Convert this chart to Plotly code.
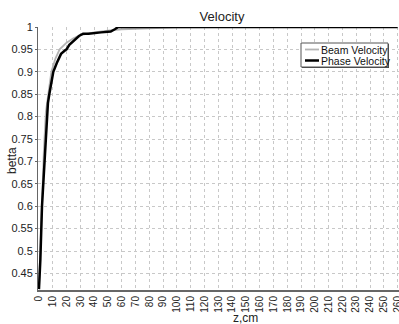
import plotly.graph_objects as go

# Data
beam_z = [0, 1, 2, 3.5, 5, 7, 9, 12, 15, 20, 25, 30, 40, 50, 60, 80, 100, 130, 260]
beam_v = [0.415, 0.50, 0.62, 0.72, 0.81, 0.86, 0.90, 0.93, 0.95, 0.965, 0.975, 0.982, 0.988, 0.992, 0.995, 0.997, 0.999, 1.0, 1.0]

phase_z = [0, 1, 2.2, 4, 5.5, 6.5, 7.5, 9, 10.4, 13, 16, 19, 20, 22, 26, 29, 32, 36, 45, 52, 55, 57.5, 260]
phase_v = [0.415, 0.48, 0.60, 0.70, 0.80, 0.83, 0.85, 0.88, 0.90, 0.92, 0.94, 0.948, 0.95, 0.96, 0.972, 0.98, 0.985, 0.985, 0.988, 0.99, 0.995, 1.0, 1.0]

series_names = ["Beam Velocity", "Phase Velocity"]
series_colors = ["#b4b4b4", "#000000"]

x_ticks = list(range(0, 261, 10))
y_ticks = [0.45, 0.5, 0.55, 0.6, 0.65, 0.7, 0.75, 0.8, 0.85, 0.9, 0.95, 1]
y_labels = ["0.45", "0.5", "0.55", "0.6", "0.65", "0.7", "0.75", "0.8", "0.85", "0.9", "0.95", "1"]

fig = go.Figure()
fig.add_trace(go.Scatter(x=beam_z, y=beam_v, mode="lines", name=series_names[0],
                         line=dict(color=series_colors[0], width=1.8), cliponaxis=False))
fig.add_trace(go.Scatter(x=phase_z, y=phase_v, mode="lines", name=series_names[1],
                         line=dict(color=series_colors[1], width=2.5), cliponaxis=False))

# Compact legend drawn as shapes + annotations (paper coords over the plot area)
L, R, T, B = 38, 399, 27, 290
W, H = R - L, B - T
def px(x): return (x - L) / W
def py(y): return (B - y) / H

shapes = [
    dict(type="rect", xref="paper", yref="paper", x0=px(302), x1=px(389), y0=py(68), y1=py(44),
         fillcolor="#444444", line=dict(width=0), layer="above"),
    dict(type="rect", xref="paper", yref="paper", x0=px(301), x1=px(388), y0=py(67), y1=py(43),
         fillcolor="white", line=dict(color="#555555", width=1), layer="above"),
]
annotations = []
for i, (name, col) in enumerate(zip(series_names, series_colors)):
    yy = 49.5 + i * 11
    shapes.append(dict(type="line", xref="paper", yref="paper", x0=px(305), x1=px(319),
                       y0=py(yy), y1=py(yy), line=dict(color=col, width=1.8 if i == 0 else 2.5),
                       layer="above"))
    annotations.append(dict(text=name, x=px(319), y=py(yy), xref="paper", yref="paper",
                            xanchor="left", yanchor="middle", showarrow=False,
                            font=dict(size=10.5, color="#111111")))

annotations.append(dict(text="z,cm", x=px(245), xref="paper", y=py(318), yref="paper",
                        xanchor="center", yanchor="middle", showarrow=False,
                        font=dict(size=12, color="#222222")))
annotations.append(dict(text="betta", x=px(12), xref="paper", y=py(160), yref="paper",
                        xanchor="center", yanchor="middle", showarrow=False, textangle=-90,
                        font=dict(size=12, color="#222222")))

font_family = "Liberation Sans, Arial, sans-serif"
fig.update_layout(
    width=399, height=324,
    margin=dict(l=38, r=0, t=27, b=34, autoexpand=False),
    paper_bgcolor="white", plot_bgcolor="white",
    font=dict(family=font_family, color="#222222", size=11),
    title=dict(text="Velocity", x=(222) / 399, xanchor="center", y=1 - 16 / 324, yanchor="middle",
               font=dict(size=13, color="#222222")),
    showlegend=False,
    xaxis=dict(range=[-0.7, 261], tickmode="array", tickvals=x_ticks,
               ticktext=[str(v) for v in x_ticks], tickangle=-90,
               tickfont=dict(size=10), showgrid=True, gridcolor="#c8c8c8",
               griddash="dot", gridwidth=1, zeroline=False, automargin=False,
               ticklabeloverflow="allow",
               showline=True, linecolor="#666666", linewidth=2,
               ticks="", ticklen=0),
    yaxis=dict(range=[0.413, 1.0], tickmode="array", tickvals=y_ticks,
               ticktext=y_labels, tickfont=dict(size=11), automargin=False,
               showgrid=True, gridcolor="#c8c8c8", griddash="dot", gridwidth=1,
               zeroline=False, showline=True, linecolor="#666666", linewidth=1,
               ticks="outside", ticklen=2, tickcolor="#666666"),
    shapes=shapes,
    annotations=annotations,
)

fig.write_html("out.html", config={"displayModeBar": False},
               post_script="document.body.style.margin='0';")
